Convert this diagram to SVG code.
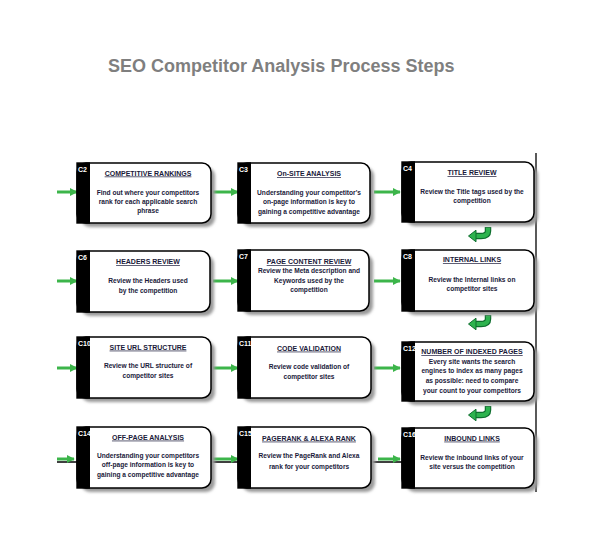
<svg xmlns="http://www.w3.org/2000/svg" xmlns:xlink="http://www.w3.org/1999/xlink" width="600" height="550" viewBox="0 0 600 550">
<style>
  .title { font-family: "Liberation Sans", Arial, sans-serif; font-weight: bold; font-size: 18px; fill: #7f7f7f; }
  .box { fill: #ffffff; stroke: #000000; stroke-width: 1.5; }
  .shadow { fill: #9a9a9a; filter: url(#blur); }
  .strip { fill: #000000; }
  .lbl { font-family: "Liberation Sans", Arial, sans-serif; font-weight: bold; font-size: 7px; fill: #ffffff; }
  .hd { font-family: "Liberation Sans", Arial, sans-serif; font-weight: bold; font-size: 7px; fill: #1a1a3a; text-anchor: middle; text-decoration: underline; }
  .bd { font-family: "Liberation Sans", Arial, sans-serif; font-weight: bold; font-size: 6.6px; fill: #1a1a3a; text-anchor: middle; }
  .arr { stroke: #3cb54a; stroke-width: 3; fill: none; marker-end: url(#ah); }
  .rule { stroke: #000000; stroke-width: 1.3; fill: none; }
</style>
<defs>
  <filter id="blur" x="-10%" y="-10%" width="130%" height="130%">
    <feGaussianBlur stdDeviation="1.5"/>
  </filter>
  <marker id="ah" viewBox="0 0 10 10" refX="9" refY="5" markerWidth="2.6" markerHeight="2.6" orient="auto" markerUnits="strokeWidth">
    <path d="M0,0 L10,5 L0,10 z" fill="#3cb54a"/>
  </marker>
  <g id="uturn">
    <path d="M20,0 V4 Q20,9 13,9 H7" fill="none" stroke="#0e6e2e" stroke-width="6.5"/>
    <path d="M20,0.8 V4 Q20,9 13,9 H7" fill="none" stroke="#2db34e" stroke-width="4.2"/>
    <path d="M0.5,9 L8,3.2 L8,14.8 z" fill="#2db34e" stroke="#0e6e2e" stroke-width="1"/>
  </g>
</defs>

<text class="title" x="108" y="72">SEO Competitor Analysis Process Steps</text>

<g id="connectors">
  <line class="rule" x1="536" y1="153" x2="536" y2="492"/>
  <line class="rule" x1="57" y1="462" x2="402" y2="462"/>
  <line class="arr" x1="57" y1="192" x2="77" y2="192"/>
  <line class="arr" x1="213" y1="192" x2="238" y2="192"/>
  <line class="arr" x1="374" y1="192" x2="400" y2="192"/>
  <line class="arr" x1="57" y1="281" x2="77" y2="281"/>
  <line class="arr" x1="213" y1="281" x2="238" y2="281"/>
  <line class="arr" x1="374" y1="281" x2="400" y2="281"/>
  <line class="arr" x1="57" y1="368" x2="77" y2="368"/>
  <line class="arr" x1="213" y1="368" x2="238" y2="368"/>
  <line class="arr" x1="374" y1="368" x2="400" y2="368"/>
  <line class="arr" x1="57" y1="459" x2="74" y2="459"/>
  <line class="arr" x1="212" y1="459" x2="238" y2="459"/>
  <line class="arr" x1="378" y1="459" x2="400" y2="459"/>
  <use xlink:href="#uturn" x="468" y="227"/>
  <use xlink:href="#uturn" x="468" y="315"/>
  <use xlink:href="#uturn" x="468" y="406"/>
</g>

<g id="C2">
  <rect class="shadow" x="81" y="167" width="134" height="60" rx="9"/>
  <rect class="box" x="77" y="163" width="134" height="60" rx="9"/>
  <rect class="strip" x="76.3" y="162.3" width="13.7" height="61.4"/>
  <text class="lbl" x="78" y="172">C2</text>
  <text class="hd" x="148" y="175.5">COMPETITIVE RANKINGS</text>
  <text class="bd" x="148" y="194.5">Find out where your competitors</text>
  <text class="bd" x="148" y="203.5">rank for each applicable search</text>
  <text class="bd" x="148" y="213">phrase</text>
</g>

<g id="C3">
  <rect class="shadow" x="242" y="167" width="132" height="60" rx="9"/>
  <rect class="box" x="238" y="163" width="132" height="60" rx="9"/>
  <rect class="strip" x="237.3" y="162.3" width="13.7" height="61.4"/>
  <text class="lbl" x="239" y="172">C3</text>
  <text class="hd" x="309" y="176">On-SITE ANALYSIS</text>
  <text class="bd" x="309" y="195">Understanding your competitor's</text>
  <text class="bd" x="309" y="204.3">on-page information is key to</text>
  <text class="bd" x="309" y="214">gaining a competitive advantage</text>
</g>

<g id="C4">
  <rect class="shadow" x="406" y="166" width="132" height="60" rx="9"/>
  <rect class="box" x="402" y="162" width="132" height="60" rx="9"/>
  <rect class="strip" x="401.3" y="161.3" width="13.7" height="61.4"/>
  <text class="lbl" x="403" y="171">C4</text>
  <text class="hd" x="472" y="175">TITLE REVIEW</text>
  <text class="bd" x="472" y="194">Review the Title tags used by the</text>
  <text class="bd" x="472" y="203.3">competition</text>
</g>

<g id="C6">
  <rect class="shadow" x="81" y="255" width="133" height="61" rx="9"/>
  <rect class="box" x="77" y="251" width="133" height="61" rx="9"/>
  <rect class="strip" x="76.3" y="250.3" width="13.7" height="62.4"/>
  <text class="lbl" x="78" y="260">C6</text>
  <text class="hd" x="148" y="264">HEADERS REVIEW</text>
  <text class="bd" x="148" y="283">Review the Headers used</text>
  <text class="bd" x="148" y="293">by the competition</text>
</g>

<g id="C7">
  <rect class="shadow" x="242" y="254" width="131" height="61" rx="9"/>
  <rect class="box" x="238" y="250" width="131" height="61" rx="9"/>
  <rect class="strip" x="237.3" y="249.3" width="13.7" height="62.4"/>
  <text class="lbl" x="239" y="259">C7</text>
  <text class="hd" x="309" y="264">PAGE CONTENT REVIEW</text>
  <text class="bd" x="309" y="273">Review the Meta description and</text>
  <text class="bd" x="309" y="283">Keywords used by the</text>
  <text class="bd" x="309" y="292.3">competition</text>
</g>

<g id="C8">
  <rect class="shadow" x="406" y="254" width="132" height="61" rx="9"/>
  <rect class="box" x="402" y="250" width="132" height="61" rx="9"/>
  <rect class="strip" x="401.3" y="249.3" width="13.7" height="62.4"/>
  <text class="lbl" x="403" y="259">C8</text>
  <text class="hd" x="472" y="262.3">INTERNAL LINKS</text>
  <text class="bd" x="472" y="281.6">Review the Internal links on</text>
  <text class="bd" x="472" y="290.6">competitor sites</text>
</g>

<g id="C10">
  <rect class="shadow" x="81" y="341" width="134" height="61" rx="9"/>
  <rect class="box" x="77" y="337" width="134" height="61" rx="9"/>
  <rect class="strip" x="76.3" y="336.3" width="13.7" height="62.4"/>
  <text class="lbl" x="78" y="346">C10</text>
  <text class="hd" x="148" y="349.6">SITE URL STRUCTURE</text>
  <text class="bd" x="148" y="368.3">Review the URL structure of</text>
  <text class="bd" x="148" y="378.3">competitor sites</text>
</g>

<g id="C11">
  <rect class="shadow" x="242" y="341" width="133" height="61" rx="9"/>
  <rect class="box" x="238" y="337" width="133" height="61" rx="9"/>
  <rect class="strip" x="237.3" y="336.3" width="13.7" height="62.4"/>
  <text class="lbl" x="239" y="346">C11</text>
  <text class="hd" x="309" y="350.6">CODE VALIDATION</text>
  <text class="bd" x="309" y="369">Review code validation of</text>
  <text class="bd" x="309" y="379">competitor sites</text>
</g>

<g id="C12">
  <rect class="shadow" x="406" y="346" width="132" height="59" rx="9"/>
  <rect class="box" x="402" y="342" width="132" height="59" rx="9"/>
  <rect class="strip" x="401.3" y="341.3" width="13.7" height="60.4"/>
  <text class="lbl" x="403" y="351">C12</text>
  <text class="hd" x="472" y="354">NUMBER OF INDEXED PAGES</text>
  <text class="bd" x="472" y="364.3">Every site wants the search</text>
  <text class="bd" x="472" y="373">engines to index as many pages</text>
  <text class="bd" x="472" y="383">as possible: need to compare</text>
  <text class="bd" x="472" y="393.3">your count to your competitors</text>
</g>

<g id="C14">
  <rect class="shadow" x="81" y="431" width="134" height="61" rx="9"/>
  <rect class="box" x="77" y="427" width="134" height="61" rx="9"/>
  <rect class="strip" x="76.3" y="426.3" width="13.7" height="62.4"/>
  <text class="lbl" x="78" y="436">C14</text>
  <text class="hd" x="148" y="439.6">OFF-PAGE ANALYSIS</text>
  <text class="bd" x="148" y="458.3">Understanding your competitors</text>
  <text class="bd" x="148" y="467.3">off-page information is key to</text>
  <text class="bd" x="148" y="476.6">gaining a competitive advantage</text>
</g>

<g id="C15">
  <rect class="shadow" x="242" y="431" width="133" height="61" rx="9"/>
  <rect class="box" x="238" y="427" width="133" height="61" rx="9"/>
  <rect class="strip" x="237.3" y="426.3" width="13.7" height="62.4"/>
  <text class="lbl" x="239" y="436">C15</text>
  <text class="hd" x="309" y="440.6">PAGERANK &amp; ALEXA RANK</text>
  <text class="bd" x="309" y="458.3">Review the PageRank and Alexa</text>
  <text class="bd" x="309" y="469">rank for your competitors</text>
</g>

<g id="C16">
  <rect class="shadow" x="406" y="432" width="132" height="60" rx="9"/>
  <rect class="box" x="402" y="428" width="132" height="60" rx="9"/>
  <rect class="strip" x="401.3" y="427.3" width="13.7" height="61.4"/>
  <text class="lbl" x="403" y="437">C16</text>
  <text class="hd" x="472" y="440.6">INBOUND LINKS</text>
  <text class="bd" x="472" y="459.6">Review the inbound links of your</text>
  <text class="bd" x="472" y="469">site versus the competition</text>
</g>
</svg>
